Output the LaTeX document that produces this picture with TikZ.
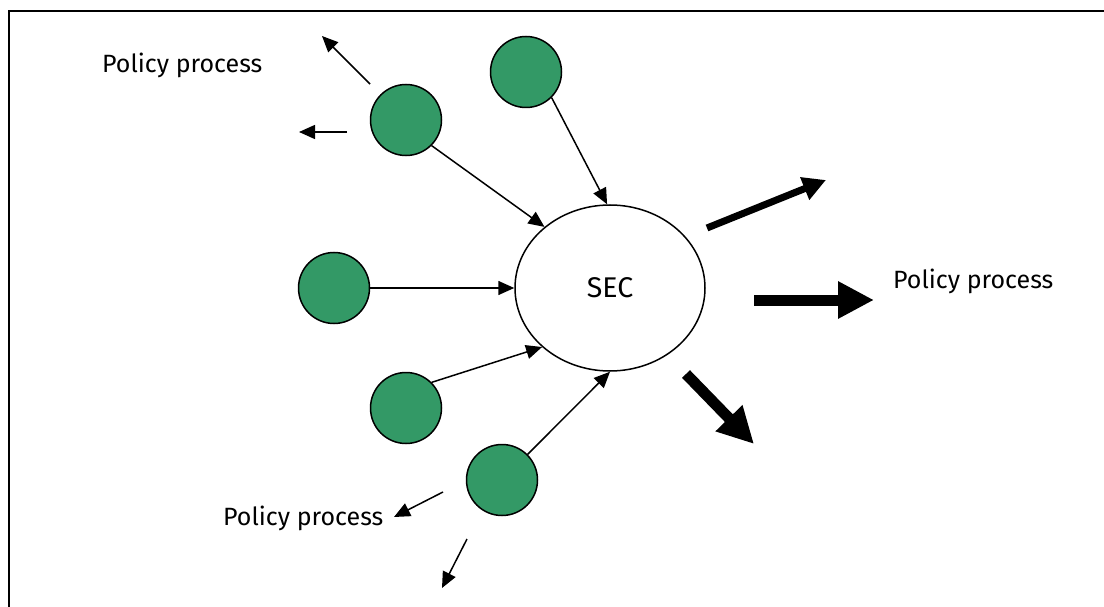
\documentclass[tikz,border=0pt]{standalone}
\usepackage{fontspec}
\setmainfont{Fira Sans}
\usetikzlibrary{arrows.meta,shapes.geometric}
\definecolor{nodegreen}{HTML}{339966}
\begin{document}
\begin{tikzpicture}[x=1pt,y=-1pt,
  gnode/.style={circle, draw=black, line width=1.5pt, fill=nodegreen, minimum size=71pt, inner sep=0pt},
  secnode/.style={ellipse, draw=black, line width=1.5pt, fill=white, minimum width=190pt, minimum height=166pt, inner sep=0pt, font=\fontsize{28.5}{32}\selectfont},
  lbl/.style={anchor=base west, inner sep=0pt, font=\fontsize{25}{30}\selectfont},
  thin/.style={line width=1.5pt, -{Triangle[length=16pt,width=14pt]}},
  bigsmall/.style={line width=7pt, -{Triangle[length=23pt,width=23pt]}},
  bigarrow/.style={line width=11pt, -{Triangle[length=36pt,width=35pt]}}
]
\useasboundingbox (0,0) rectangle (1104,607);
\draw[line width=2pt] (9,607) -- (9,11) -- (1104,11);

\node[secnode] (sec) at (610,288) {SEC};
\node[gnode] (c1) at (406,120) {};
\node[gnode] (c2) at (526,72) {};
\node[gnode] (c3) at (334,288) {};
\node[gnode] (c4) at (406,408) {};
\node[gnode] (c5) at (502,480) {};

\draw[thin] (c1.-45) -- (sec.137);
\draw[thin] (c2.-45) -- (sec.92);
\draw[thin] (c3.east) -- (sec.west);
\draw[thin] (c4.45) -- (sec.221);
\draw[thin] (c5.45) -- (sec.south);

\coordinate (a1s) at (370,84);  \coordinate (a1e) at (322,36);
\coordinate (a2s) at (347,132); \coordinate (a2e) at (299,132);
\coordinate (a3s) at (443,492); \coordinate (a3e) at (394,517);
\coordinate (a4s) at (467,539); \coordinate (a4e) at (442,588);
\draw[thin] (a1s) -- (a1e);
\draw[thin] (a2s) -- (a2e);
\draw[thin] (a3s) -- (a3e);
\draw[thin] (a4s) -- (a4e);

\coordinate (b1s) at (707,228); \coordinate (b1e) at (826,180);
\coordinate (b2s) at (754,300); \coordinate (b2e) at (874,300);
\coordinate (b3s) at (686,374); \coordinate (b3e) at (754,444);
\draw[bigsmall] (b1s) -- (b1e);
\draw[bigarrow] (b2s) -- (b2e);
\draw[bigarrow] (b3s) -- (b3e);

\node[lbl] (t1) at (102,73) {Policy process};
\node[lbl] (t2) at (893,288) {Policy process};
\node[lbl] (t3) at (223,525) {Policy process};
\end{tikzpicture}
\end{document}
